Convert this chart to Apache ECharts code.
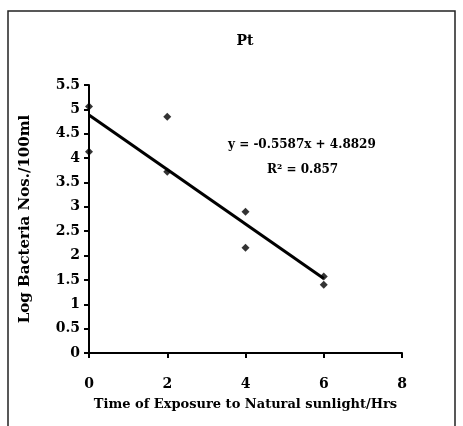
<!DOCTYPE html>
<html>
<head>
<meta charset="utf-8">
<script src="https://cdn.jsdelivr.net/npm/echarts@6/dist/echarts.min.js"></script>
<style>
  html, body { margin: 0; padding: 0; background: #fff; }
  #chart { width: 463px; height: 426px; }
</style>
</head>
<body>
<div id="chart"></div>
<script>
// observed points (hours, log count)
var hours = [0, 0, 2, 2, 4, 4, 6, 6];
var logCounts = [5.06, 4.13, 4.85, 3.72, 2.9, 2.16, 1.57, 1.4];
// linear fit shown on the chart
var slope = -0.5587;
var intercept = 4.8829;
var fitX = [0, 6];

var myChart = echarts.init(document.getElementById("chart"));
var font = "DejaVu Serif";

myChart.setOption({
  animation: false,
  textStyle: { fontFamily: font, color: "#000" },
  title: {
    text: "Pt",
    left: 240,
    top: 29,
    textAlign: "center",
    textStyle: { fontFamily: font, fontSize: 14, fontWeight: "bold", color: "#000" }
  },
  grid: { left: 89, right: 61, top: 85, bottom: 73 },
  xAxis: {
    type: "value",
    min: 0,
    max: 8,
    interval: 2,
    name: "Time of Exposure to Natural sunlight/Hrs",
    nameLocation: "middle",
    nameGap: 45,
    nameTextStyle: { fontFamily: font, fontSize: 13, fontWeight: "bold", color: "#000" },
    axisLine: { lineStyle: { color: "#000", width: 2 } },
    axisTick: { lineStyle: { color: "#000", width: 2 }, length: 5 },
    axisLabel: { margin: 24, fontFamily: font, fontSize: 14, fontWeight: "bold", color: "#000" },
    splitLine: { show: false }
  },
  yAxis: {
    type: "value",
    min: 0,
    max: 5.5,
    interval: 0.5,
    name: "Log Bacteria Nos./100ml",
    nameLocation: "middle",
    nameGap: 56,
    nameTextStyle: { fontFamily: font, fontSize: 15, fontWeight: "bold", color: "#000" },
    axisLine: { show: true, lineStyle: { color: "#000", width: 2 } },
    axisTick: { show: true, lineStyle: { color: "#000", width: 2 }, length: 5 },
    axisLabel: { margin: 9, fontFamily: font, fontSize: 14, fontWeight: "bold", color: "#000" },
    splitLine: { show: false }
  },
  graphic: [
    {
      type: "rect",
      shape: { x: 8, y: 11, width: 447, height: 430 },
      style: { fill: "none", stroke: "#222", lineWidth: 1.5 },
      silent: true
    },
    {
      type: "text",
      left: 228,
      top: 139,
      style: { text: "y = -0.5587x + 4.8829", fontFamily: font, fontSize: 12, fontWeight: "bold", fill: "#000" }
    },
    {
      type: "text",
      left: 267,
      top: 164,
      style: { text: "R\u00b2 = 0.857", fontFamily: font, fontSize: 12, fontWeight: "bold", fill: "#000" }
    }
  ],
  series: [
    {
      type: "line",
      data: fitX.map(function (x) { return [x, slope * x + intercept]; }),
      showSymbol: false,
      lineStyle: { color: "#000", width: 3 },
      z: 2
    },
    {
      type: "scatter",
      data: hours.map(function (h, i) { return [h, logCounts[i]]; }),
      symbol: "diamond",
      symbolSize: 8,
      itemStyle: { color: "#000" },
      z: 3
    }
  ]
});
</script>
</body>
</html>
